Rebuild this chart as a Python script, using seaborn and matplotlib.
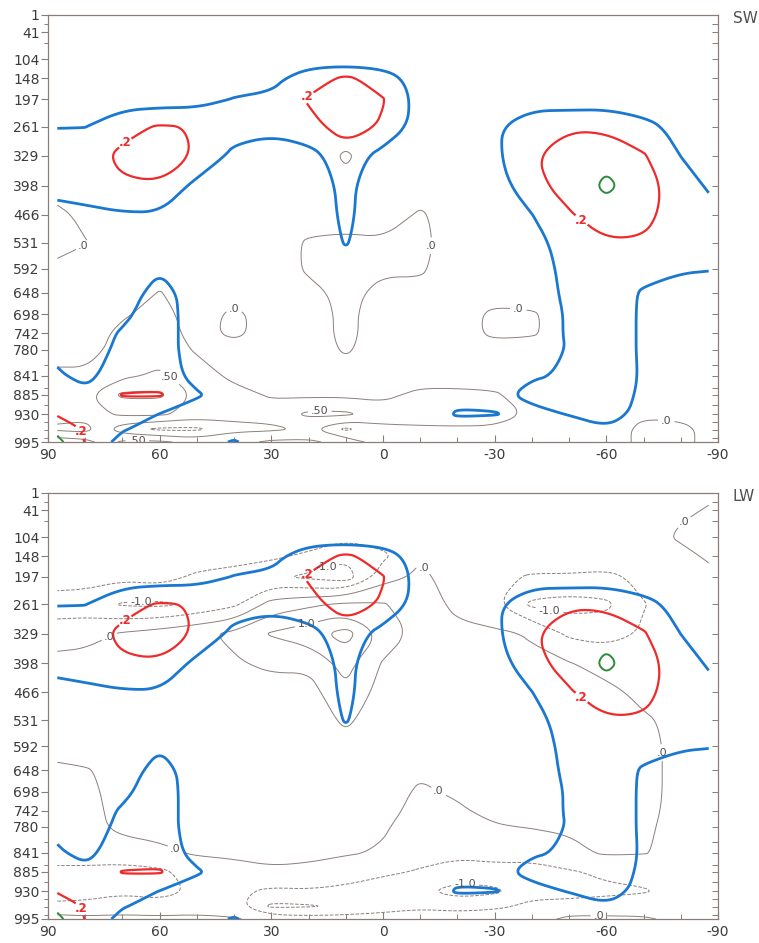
import numpy as np
import matplotlib
matplotlib.use("Agg")
import matplotlib.pyplot as plt
from matplotlib.path import Path
import seaborn as sns

# ---------------- data ----------------
lons = [87.5, 80, 70, 60, 50, 40, 30, 20, 10, 0, -10, -20, -30, -40, -50, -60, -70, -80, -87.5]
levs = [1, 41, 104, 148, 197, 261, 329, 398, 466, 531, 592, 648, 698, 742, 780, 841, 885, 930, 965, 995]
ytick_levels = [1, 41, 104, 148, 197, 261, 329, 398, 466, 531, 592, 648, 698, 742, 780, 841, 885, 930, 995]
ytick_minor = [21, 67, 815, 869, 908, 948, 967, 985]
xtick_major = [90, 60, 30, 0, -30, -60, -90]
xtick_labels = ["90", "60", "30", "0", "-30", "-60", "-90"]
panel_names = ["SW", "LW"]

# coloured field (same in both panels); one list per longitude, top -> surface
corr_cols = [
    [0, 0, 0.01, 0.02, 0.05, 0.097, 0.15, 0.12, 0.08, 0.04, 0.03, 0.03, 0.04, 0.05, 0.08, 0.11, 0.12, 0.19, 0.27, 0.33],
    [0, 0, 0.01, 0.02, 0.05, 0.098, 0.16, 0.14, 0.08, 0.04, 0.03, 0.03, 0.04, 0.05, 0.06, 0.08, 0.12, 0.17, 0.19, 0.195],
    [0, 0, 0.01, 0.02, 0.05, 0.17, 0.22, 0.19, 0.09, 0.04, 0.04, 0.05, 0.08, 0.11, 0.12, 0.14, 0.205, 0.15, 0.11, 0.06],
    [0, 0, 0.01, 0.03, 0.05, 0.21, 0.26, 0.19, 0.09, 0.05, 0.09, 0.14, 0.15, 0.15, 0.15, 0.15, 0.21, 0.098, 0.05, 0.03],
    [0, 0, 0.01, 0.03, 0.06, 0.195, 0.19, 0.07, 0.03, 0.02, 0.03, 0.05, 0.05, 0.05, 0.05, 0.07, 0.11, 0.06, 0.04, 0.05],
    [0, 0, 0.01, 0.05, 0.105, 0.15, 0.07, 0.03, 0.02, 0.02, 0.02, 0.03, 0.03, 0.03, 0.03, 0.04, 0.05, 0.04, 0.05, 0.11],
    [0, 0, 0.02, 0.07, 0.12, 0.12, 0.06, 0.03, 0.02, 0.02, 0.02, 0.02, 0.02, 0.02, 0.02, 0.02, 0.02, 0.03, 0.03, 0.03],
    [0, 0, 0.05, 0.15, 0.21, 0.17, 0.06, 0.03, 0.02, 0.02, 0.02, 0.02, 0.02, 0.02, 0.02, 0.02, 0.02, 0.03, 0.03, 0.03],
    [0, 0.01, 0.03, 0.22, 0.27, 0.24, 0.16, 0.13, 0.125, 0.108, 0.04, 0.03, 0.02, 0.02, 0.02, 0.02, 0.02, 0.03, 0.03, 0.03],
    [0, 0, 0.04, 0.15, 0.205, 0.19, 0.06, 0.02, 0.02, 0.02, 0.02, 0.02, 0.02, 0.02, 0.02, 0.02, 0.03, 0.04, 0.03, 0.02],
    [0, 0, 0.02, 0.05, 0.06, 0.05, 0.03, 0.02, 0.02, 0.02, 0.02, 0.02, 0.02, 0.02, 0.02, 0.03, 0.04, 0.04, 0.02, 0.02],
    [0, 0, 0.01, 0.02, 0.03, 0.04, 0.04, 0.03, 0.02, 0.02, 0.02, 0.02, 0.02, 0.02, 0.03, 0.04, 0.07, 0.11, 0.05, 0.02],
    [0, 0, 0.01, 0.02, 0.04, 0.09, 0.08, 0.05, 0.03, 0.03, 0.03, 0.03, 0.03, 0.03, 0.04, 0.04, 0.07, 0.105, 0.04, 0.02],
    [0, 0, 0.01, 0.02, 0.07, 0.14, 0.19, 0.17, 0.098, 0.06, 0.05, 0.05, 0.05, 0.05, 0.06, 0.09, 0.13, 0.07, 0.03, 0.02],
    [0, 0, 0.01, 0.02, 0.04, 0.19, 0.25, 0.24, 0.19, 0.15, 0.13, 0.12, 0.11, 0.11, 0.105, 0.11, 0.14, 0.105, 0.05, 0.02],
    [0, 0, 0.01, 0.02, 0.05, 0.18, 0.27, 0.32, 0.26, 0.19, 0.16, 0.15, 0.14, 0.14, 0.14, 0.15, 0.16, 0.14, 0.09, 0.03],
    [0, 0, 0.01, 0.02, 0.04, 0.13, 0.21, 0.25, 0.23, 0.19, 0.13, 0.09, 0.09, 0.09, 0.09, 0.09, 0.08, 0.07, 0.05, 0.03],
    [0, 0, 0.01, 0.02, 0.03, 0.07, 0.099, 0.14, 0.15, 0.14, 0.11, 0.06, 0.04, 0.04, 0.04, 0.04, 0.04, 0.03, 0.03, 0.02],
    [0, 0, 0.01, 0.02, 0.02, 0.04, 0.07, 0.09, 0.13, 0.13, 0.105, 0.05, 0.03, 0.03, 0.03, 0.03, 0.03, 0.03, 0.02, 0.02],
]

# thin grey field, SW panel
sw_cols = [
    [-0.2, -0.2, -0.2, -0.2, -0.2, -0.2, -0.2, -0.2, 0.1, 0.15, -0.1, -0.2, -0.2, -0.2, -0.2, 0.1, 0.2, 0.3, 0.6, -0.3],
    [-0.2, -0.2, -0.2, -0.2, -0.2, -0.2, -0.2, -0.2, -0.1, 0.02, -0.2, -0.2, -0.2, -0.2, -0.2, 0.1, 0.4, 0.3, 0.7, -0.2],
    [-0.2, -0.2, -0.2, -0.2, -0.2, -0.2, -0.2, -0.2, -0.2, -0.2, -0.2, -0.2, -0.05, 0.1, 0.2, 0.4, 1.1, 0.6, -0.3, 0.6],
    [-0.2, -0.2, -0.2, -0.2, -0.2, -0.2, -0.2, -0.2, -0.2, -0.2, -0.2, 0.02, 0.15, 0.2, 0.25, 0.6, 1.1, 0.6, -0.6, 0.6],
    [-0.2, -0.2, -0.2, -0.2, -0.2, -0.2, -0.2, -0.2, -0.2, -0.2, -0.2, -0.2, -0.2, -0.15, -0.05, 0.2, 0.4, 0.3, -0.6, 0.3],
    [-0.2, -0.2, -0.2, -0.2, -0.2, -0.2, -0.2, -0.2, -0.2, -0.2, -0.2, -0.2, 0.1, 0.1, -0.2, -0.1, 0.15, 0.1, -0.1, 0.3],
    [-0.2, -0.2, -0.2, -0.2, -0.2, -0.2, -0.2, -0.2, -0.2, -0.2, -0.2, -0.2, -0.2, -0.2, -0.2, -0.2, -0.05, 0.2, -0.1, 0.6],
    [-0.2, -0.2, -0.2, -0.2, -0.2, -0.2, -0.2, -0.2, -0.2, 0.05, 0.05, -0.1, -0.2, -0.2, -0.2, -0.2, -0.1, 0.6, 0.1, 0.6],
    [-0.2, -0.2, -0.2, -0.2, -0.2, -0.2, 0.05, -0.1, -0.2, 0.1, 0.1, 0.1, 0.1, 0.1, 0.05, -0.2, -0.1, 0.6, -0.6, 0.3],
    [-0.2, -0.2, -0.2, -0.2, -0.2, -0.2, -0.2, -0.2, -0.2, 0.05, 0.05, -0.1, -0.2, -0.2, -0.2, -0.2, -0.1, 0.2, -0.1, -0.3],
    [-0.2, -0.2, -0.2, -0.2, -0.2, -0.2, -0.2, -0.2, 0.05, 0.1, 0.05, -0.1, -0.2, -0.2, -0.2, -0.2, 0.1, 0.3, -0.1, -0.2],
    [-0.2, -0.2, -0.2, -0.2, -0.2, -0.2, -0.2, -0.2, -0.2, -0.2, -0.2, -0.2, -0.2, -0.2, -0.2, -0.2, 0.1, 0.4, -0.1, -0.2],
    [-0.2, -0.2, -0.2, -0.2, -0.2, -0.2, -0.2, -0.2, -0.2, -0.2, -0.2, -0.2, 0.1, 0.1, -0.2, -0.2, 0.05, 0.3, -0.1, -0.2],
    [-0.2, -0.2, -0.2, -0.2, -0.2, -0.2, -0.2, -0.2, -0.2, -0.2, -0.2, -0.2, 0.05, 0.05, -0.2, -0.2, -0.2, -0.1, -0.2, -0.2],
    [-0.2, -0.2, -0.2, -0.2, -0.2, -0.2, -0.2, -0.2, -0.2, -0.2, -0.2, -0.2, -0.2, -0.2, -0.2, -0.2, -0.2, -0.2, -0.2, -0.2],
    [-0.2, -0.2, -0.2, -0.2, -0.2, -0.2, -0.2, -0.2, -0.2, -0.2, -0.2, -0.2, -0.2, -0.2, -0.2, -0.2, -0.2, -0.2, -0.2, -0.2],
    [-0.2, -0.2, -0.2, -0.2, -0.2, -0.2, -0.2, -0.2, -0.2, -0.2, -0.2, -0.2, -0.2, -0.2, -0.2, -0.2, -0.2, -0.05, 0.1, 0.1],
    [-0.2, -0.2, -0.2, -0.2, -0.2, -0.2, -0.2, -0.2, -0.2, -0.2, -0.2, -0.2, -0.2, -0.2, -0.2, -0.2, -0.2, -0.1, 0.1, 0.1],
    [-0.2, -0.2, -0.2, -0.2, -0.2, -0.2, -0.2, -0.2, -0.2, -0.2, -0.2, -0.2, -0.2, -0.2, -0.2, -0.2, -0.2, -0.2, -0.1, -0.1],
]

# thin grey field, LW panel
lw_cols = [
    [-0.05, -0.05, -0.1, -0.15, -0.3, -0.7, -0.3, 0.2, 0.3, 0.3, 0.2, -0.1, -0.1, -0.2, -0.2, -0.3, -0.6, -0.7, -0.4, 0.2],
    [-0.05, -0.05, -0.1, -0.15, -0.3, -0.75, -0.2, 0.2, 0.3, 0.3, 0.3, -0.05, -0.1, -0.1, -0.15, -0.3, -0.6, -0.8, -0.3, 0.1],
    [-0.05, -0.05, -0.1, -0.2, -0.4, -1.05, 0.05, 0.3, 0.3, 0.3, 0.3, 0.2, 0.15, 0.1, 0.1, -0.2, -0.7, -0.6, -0.2, 0.1],
    [-0.05, -0.05, -0.1, -0.2, -0.3, -1.1, 0.2, 0.3, 0.3, 0.3, 0.3, 0.3, 0.3, 0.2, 0.15, -0.1, -0.6, -0.7, -0.3, 0.1],
    [-0.05, -0.05, -0.1, -0.2, -0.6, -0.9, 0.4, 0.4, 0.3, 0.3, 0.3, 0.3, 0.3, 0.2, 0.15, 0.05, -0.3, -0.4, -0.2, 0.1],
    [-0.05, -0.05, -0.1, -0.3, -0.7, -0.6, 0.6, 0.45, 0.3, 0.3, 0.3, 0.3, 0.3, 0.25, 0.2, 0.05, -0.1, -0.4, -0.3, 0.05],
    [-0.05, -0.05, -0.15, -0.4, -0.9, 0.2, 1.05, 0.6, 0.3, 0.3, 0.3, 0.3, 0.3, 0.25, 0.2, 0.1, -0.05, -0.6, -1.1, -0.2],
    [-0.05, -0.05, -0.2, -0.6, -1.1, 0.4, 1.3, 0.6, 0.3, 0.2, 0.2, 0.2, 0.2, 0.2, 0.15, 0.1, -0.1, -0.55, -1.05, -0.3],
    [-0.05, -0.1, -0.4, -0.9, -1.3, 0.6, 1.7, 1.2, 0.9, 0.6, 0.3, 0.2, 0.2, 0.2, 0.15, 0.05, -0.3, -0.6, -0.9, -0.3],
    [-0.05, -0.1, -0.3, -0.6, -0.2, 0.55, 0.9, 0.45, 0.3, 0.2, 0.2, 0.15, 0.15, 0.1, 0.05, -0.05, -0.4, -0.8, -0.7, -0.3],
    [-0.05, -0.1, -0.15, -0.05, 0.1, 0.2, 0.3, 0.3, 0.3, 0.2, 0.1, 0.05, -0.05, -0.1, -0.2, -0.3, -0.55, -0.9, -0.6, -0.2],
    [-0.05, -0.1, -0.15, -0.2, -0.2, -0.1, 0.1, 0.3, 0.3, 0.3, 0.2, 0.1, 0.05, -0.05, -0.2, -0.4, -0.7, -1.2, -0.7, -0.2],
    [-0.05, -0.1, -0.2, -0.3, -0.4, -0.45, 0.1, 0.25, 0.3, 0.3, 0.3, 0.2, 0.15, 0.1, -0.03, -0.3, -0.7, -1.1, -0.6, -0.2],
    [-0.05, -0.1, -0.2, -0.25, -0.55, -1.1, -0.05, 0.1, 0.3, 0.3, 0.3, 0.2, 0.15, 0.1, 0.02, -0.3, -0.7, -0.65, -0.4, -0.2],
    [-0.05, -0.1, -0.2, -0.25, -0.55, -1.2, -0.6, 0.02, 0.2, 0.3, 0.3, 0.2, 0.15, 0.1, 0.05, -0.1, -0.55, -0.7, -0.3, 0.1],
    [-0.05, -0.1, -0.2, -0.25, -0.6, -1.1, -0.7, -0.15, 0.1, 0.2, 0.3, 0.3, 0.2, 0.15, 0.1, 0.05, -0.4, -0.6, -0.3, 0.1],
    [-0.05, -0.05, -0.15, -0.2, -0.4, -0.52, -0.45, -0.3, -0.1, 0.05, 0.1, 0.1, 0.1, 0.08, 0.05, 0.02, -0.3, -0.55, -0.2, 0.05],
    [-0.05, -0.05, 0.05, -0.1, -0.2, -0.3, -0.3, -0.25, -0.2, -0.1, -0.1, -0.1, -0.1, -0.1, -0.1, -0.1, -0.2, -0.3, -0.2, -0.1],
    [-0.05, 0.02, 0.15, 0.05, -0.1, -0.2, -0.2, -0.2, -0.2, -0.1, -0.1, -0.1, -0.1, -0.1, -0.1, -0.1, -0.2, -0.2, -0.1, -0.05],
]

corr_levels = [0.1, 0.2, 0.3]
sw_levels = [-0.5, 0.0, 0.5, 1.0]
lw_levels = [-1.5, -1.0, -0.5, 0.0, 0.5, 1.0, 1.5]
level_text = {-1.5: "-1.5", -1.0: "-1.0", -0.5: "-.50", 0.0: ".0", 0.5: ".50", 1.0: "1.0", 1.5: "1.5"}

# label anchor points (lon, level) for contour labels, per panel and level
label_at = {
    "SW": {0.0: [(81, 530), (40, 700), (-8, 536), (-36, 718), (-76, 955)],
           0.5: [(59, 862), (17, 920), (66, 977)]},
    "LW": {0.0: [(74, 327), (-13, 150), (-17, 664), (-76, 606), (-82, 80), (55, 816), (-58, 985)],
           -1.0: [(65, 256), (15, 185), (-45, 266), (-22, 915)],
           1.0: [(21, 290)]},
}
red_label_at = [(70, 290), (20, 195), (-54, 471), (81, 970)]

# ---------------- style ----------------
sns.set_theme(style="ticks")
plt.rcParams["font.family"] = ["DejaVu Sans"]
plt.rcParams["contour.negative_linestyle"] = "dashed"

spine_col = "#8a7d78"
txt_col = "#3c3c3c"
grey_col = "#8c7f7a"
corr_style = {0.1: ("#1b78d0", 2.0), 0.2: ("#ee2a2a", 1.6), 0.3: ("#2f8a3a", 1.4)}


def _chaikin(pts, closed, n=3):
    for _ in range(n):
        if len(pts) < 3:
            return pts
        if closed:
            nxt = np.roll(pts, -1, axis=0)
            new = np.empty((2 * len(pts), 2))
            new[0::2] = 0.75 * pts + 0.25 * nxt
            new[1::2] = 0.25 * pts + 0.75 * nxt
            pts = new
        else:
            new = np.empty((2 * (len(pts) - 1), 2))
            new[0::2] = 0.75 * pts[:-1] + 0.25 * pts[1:]
            new[1::2] = 0.25 * pts[:-1] + 0.75 * pts[1:]
            pts = np.vstack([pts[:1], new, pts[-1:]])
    return pts


def soften(cs):
    """Round the corners of the contour lines drawn by matplotlib."""
    out = []
    for path in cs.get_paths():
        v = path.vertices
        c = path.codes
        if len(v) == 0:
            out.append(path)
            continue
        if c is None:
            c = np.full(len(v), Path.LINETO, dtype=np.uint8)
            c[0] = Path.MOVETO
        starts = list(np.where(c == Path.MOVETO)[0]) + [len(v)]
        verts, codes = [], []
        for s, e in zip(starts[:-1], starts[1:]):
            seg = v[s:e]
            sc = c[s:e]
            closed = sc[-1] == Path.CLOSEPOLY
            if closed:
                seg = seg[:-1]
            elif len(seg) > 2 and np.allclose(seg[0], seg[-1]):
                closed = True
                seg = seg[:-1]
            sm = _chaikin(np.asarray(seg, float), closed)
            if closed:
                sm = np.vstack([sm, sm[:1]])
                cc = np.full(len(sm), Path.LINETO, dtype=np.uint8)
                cc[0] = Path.MOVETO
                cc[-1] = Path.CLOSEPOLY
            else:
                cc = np.full(len(sm), Path.LINETO, dtype=np.uint8)
                cc[0] = Path.MOVETO
            verts.append(sm)
            codes.append(cc)
        out.append(Path(np.vstack(verts), np.concatenate(codes)))
    cs._paths = out
    cs.stale = True


X, Y = np.meshgrid(np.array(lons), np.array(levs))
corr = np.array(corr_cols).T
fields = {"SW": np.array(sw_cols).T, "LW": np.array(lw_cols).T}
field_levels = {"SW": sw_levels, "LW": lw_levels}

fig = plt.figure(figsize=(7.59, 9.43), dpi=100)
rects = [[48 / 759, 1 - 442 / 943, 670 / 759, 427 / 943],
         [48 / 759, 1 - 919 / 943, 670 / 759, 426 / 943]]

for name, rect in zip(panel_names, rects):
    ax = fig.add_axes(rect)
    ax.set_facecolor("white")
    ax.set_xlim(90, -90)
    ax.set_ylim(995, 1)
    g = fields[name]
    for lev in field_levels[name]:
        cs = ax.contour(X, Y, g, levels=[lev], colors=grey_col, linewidths=0.7, zorder=2)
        soften(cs)
        pos = label_at[name].get(lev)
        if pos:
            texts = ax.clabel(cs, fmt={lev: level_text[lev]}, manual=pos, inline=True,
                              inline_spacing=3, fontsize=8)
            for t in texts:
                t.set_color("#555050")
                t.set_rotation(0)

    for lev in corr_levels:
        col, lw = corr_style[lev]
        cc = ax.contour(X, Y, corr, levels=[lev], colors=col, linewidths=lw, zorder=3)
        soften(cc)
        if lev == 0.2:
            rt = ax.clabel(cc, fmt={lev: ".2"}, manual=red_label_at, inline=True,
                           inline_spacing=2, fontsize=8.5)
            for t in rt:
                t.set_color(col)
                t.set_fontweight("bold")
                t.set_rotation(0)

    ax.set_xlim(90, -90)
    ax.set_ylim(995, 1)
    ax.set_xticks(xtick_major)
    ax.set_xticklabels(xtick_labels)
    ax.set_xticks(np.arange(-90, 91, 10), minor=True)
    ax.set_yticks(ytick_levels)
    ax.set_yticklabels([str(v) for v in ytick_levels])
    ax.set_yticks(ytick_minor, minor=True)
    ax.tick_params(axis="x", which="major", direction="in", length=5, width=0.8,
                   color=spine_col, labelsize=10, labelcolor=txt_col, pad=4, top=False)
    ax.tick_params(axis="x", which="minor", direction="in", length=3.5, width=0.7,
                   color=spine_col, top=False)
    ax.tick_params(axis="y", which="major", direction="out", length=5, width=0.8,
                   color=spine_col, labelsize=10, labelcolor=txt_col, pad=1)
    ax.tick_params(axis="y", which="minor", direction="out", length=3, width=0.7, color=spine_col)
    for s in ax.spines.values():
        s.set_color(spine_col)
        s.set_linewidth(0.9)
        s.set_visible(True)

    axr = ax.twinx()
    axr.set_ylim(995, 1)
    axr.set_yticks(ytick_levels)
    axr.set_yticks(ytick_minor, minor=True)
    axr.set_yticklabels([])
    axr.tick_params(axis="y", which="both", direction="in", length=4, width=0.7,
                    color=spine_col, labelright=False)
    for s in axr.spines.values():
        s.set_visible(False)

    top_px = 15 if name == "SW" else 493
    fig.text(733 / 759, 1 - (top_px - 4) / 943, name, ha="left", va="top",
             fontsize=11, color="#505050")

fig.savefig("out.png", dpi=100, facecolor="white")
